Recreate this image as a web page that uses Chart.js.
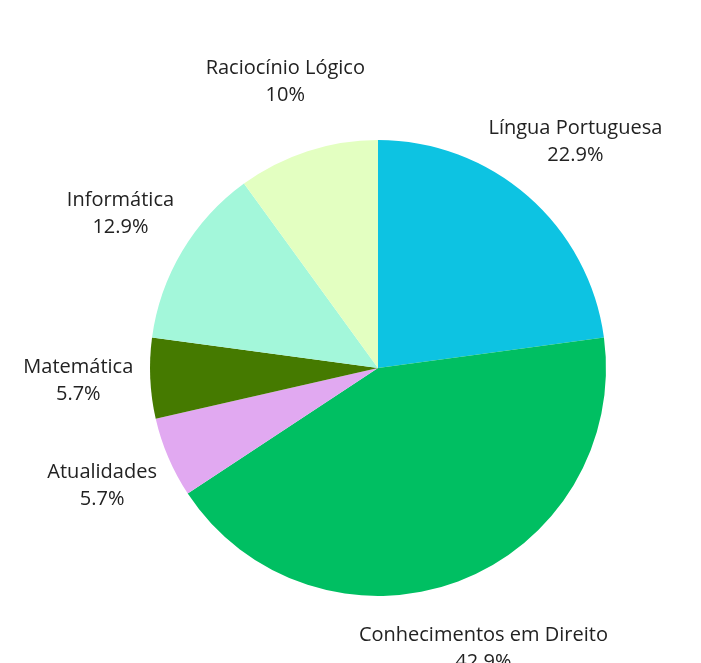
<!DOCTYPE html>
<html>
<head>
<meta charset="utf-8">
<script src="https://cdn.jsdelivr.net/npm/chart.js@4/dist/chart.umd.min.js"></script>
<style>
  html, body { margin: 0; padding: 0; background: #fff; }
  #wrap { width: 701px; height: 663px; }
</style>
</head>
<body>
<div id="wrap"><canvas id="pie"></canvas></div>
<script>
// dados do gráfico
const categories = ['Língua Portuguesa', 'Conhecimentos em Direito', 'Atualidades', 'Matemática', 'Informática', 'Raciocínio Lógico'];
const counts = [16, 30, 4, 4, 9, 7];
const colors = ['#0DC3E2', '#00BF62', '#E1A9F1', '#457A00', '#A3F7DA', '#E3FFC1'];

// rótulos externos
const outsideLabels = {
  id: 'outsideLabels',
  afterDraw(chart) {
    const ctx = chart.ctx;
    const arcs = chart.getDatasetMeta(0).data;
    const total = counts.reduce((a, b) => a + b, 0);
    ctx.save();
    ctx.font = '20px "Open Sans"';
    ctx.fillStyle = '#222';
    ctx.textAlign = 'center';
    ctx.textBaseline = 'middle';
    arcs.forEach((arc, i) => {
      const mid = (arc.startAngle + arc.endAngle) / 2;
      const r = arc.outerRadius + 72;
      const x = arc.x + Math.cos(mid) * r;
      const y = arc.y + Math.sin(mid) * r;
      const pct = parseFloat((counts[i] / total * 100).toFixed(1));
      ctx.fillText(categories[i], x, y - 14);
      ctx.fillText(pct + '%', x, y + 13);
    });
    ctx.restore();
  },
};

new Chart(document.getElementById('pie'), {
  type: 'pie',
  data: {
    labels: categories,
    datasets: [{ data: counts, backgroundColor: colors, borderWidth: 0 }],
  },
  options: {
    responsive: true,
    maintainAspectRatio: false,
    animation: false,
    layout: { padding: { left: 55, right: 0, top: 140, bottom: 67 } },
    plugins: { legend: { display: false }, tooltip: { enabled: false } },
  },
  plugins: [outsideLabels],
});
</script>
</body>
</html>
